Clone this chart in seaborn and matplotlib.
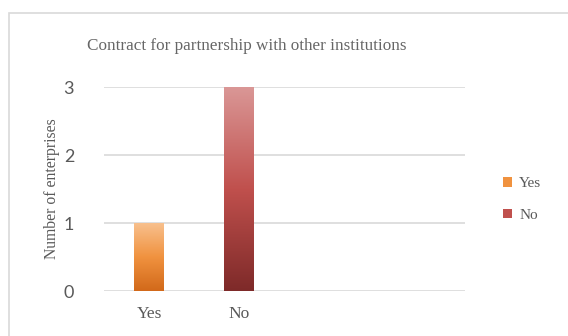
import numpy as np
import pandas as pd
import matplotlib
matplotlib.use("Agg")
import matplotlib.pyplot as plt
from matplotlib.colors import LinearSegmentedColormap
from matplotlib.patches import Rectangle, Patch
import seaborn as sns

categories = ["Yes", "No"]
values = [1, 3]
y_ticks = [0, 1, 2, 3]
title = "Contract for partnership with other institutions"
y_label = "Number of enterprises"

sns.set_theme(style="white")
plt.rcParams["font.family"] = ["DejaVu Sans"]

W, H = 568, 336
fig = plt.figure(figsize=(W / 100, H / 100), dpi=100)
fig.patch.set_facecolor("white")

# outer chart frame
fig.patches.append(Rectangle((8.5 / W, 0 - 0.05), 1.2, 1 - 13 / H + 0.05,
                             transform=fig.transFigure, fill=False,
                             edgecolor="#D9D9D9", linewidth=1.2))

ax = fig.add_axes([104 / W, 1 - 291 / H, (465 - 104) / W, (291 - 87) / H])
df = pd.DataFrame({"cat": categories, "val": values})
grad = {
    "Yes": ["#D2691A", "#F0923F", "#F8C08D"],
    "No": ["#7E2A29", "#C0504D", "#DA9796"],
}
mid = {"Yes": "#F0923F", "No": "#C0504D"}
sns.barplot(data=df, x="cat", y="val", hue="cat", palette=mid, dodge=False,
            width=0.33, legend=False, ax=ax, saturation=1)

ax.set_xlim(-0.5, 3.5)
ax.set_ylim(0, 3)
ax.set_yticks(y_ticks)
ax.yaxis.grid(True, color="#D9D9D9", linewidth=1.2)
ax.set_axisbelow(True)
for s in ax.spines.values():
    s.set_visible(False)

# gradient fills
for patch, cat in zip(ax.patches, categories):
    x0, y0 = patch.get_x(), patch.get_y()
    w, h = patch.get_width(), patch.get_height()
    cmap = LinearSegmentedColormap.from_list(cat, grad[cat])
    img = np.linspace(0, 1, 256).reshape(-1, 1)
    im = ax.imshow(img, cmap=cmap, origin="lower", aspect="auto",
                   extent=[x0, x0 + w, y0, y0 + h], zorder=3)
    im.set_clip_path(patch)
    patch.set_edgecolor("none")
ax.set_xlim(-0.5, 3.5)
ax.set_ylim(0, 3)

ax.set_xlabel("")
ax.set_ylabel("")
ax.set_xticks([0, 1])
ax.set_xticklabels(categories, family="Liberation Serif", fontsize=12.5, color="#595959")
ax.set_yticklabels([str(t) for t in y_ticks], family="Lato", fontsize=13, color="#595959")
ax.tick_params(axis="y", length=0, pad=21.5)
ax.tick_params(axis="x", length=0, pad=11)

fig.text(247 / W, 1 - 45.5 / H, title, ha="center", va="center",
         family="Liberation Serif", fontsize=12.3, color="#666666")
fig.text(52 / W, 1 - 189 / H, y_label, ha="center", va="center", rotation=90,
         family="Liberation Serif", fontsize=11.3, color="#595959")

handles = [Patch(facecolor=mid[c], edgecolor="none") for c in categories]
leg = fig.legend(handles, categories, loc="center left",
                 bbox_to_anchor=(497 / W, 1 - 199.5 / H), frameon=False,
                 borderaxespad=0, borderpad=0.4,
                 handlelength=0.55, handleheight=0.55, handletextpad=0.5,
                 labelspacing=1.2, prop={"family": "Liberation Serif", "size": 11})
for t in leg.get_texts():
    t.set_color("#595959")

fig.savefig("out.png", dpi=100)
